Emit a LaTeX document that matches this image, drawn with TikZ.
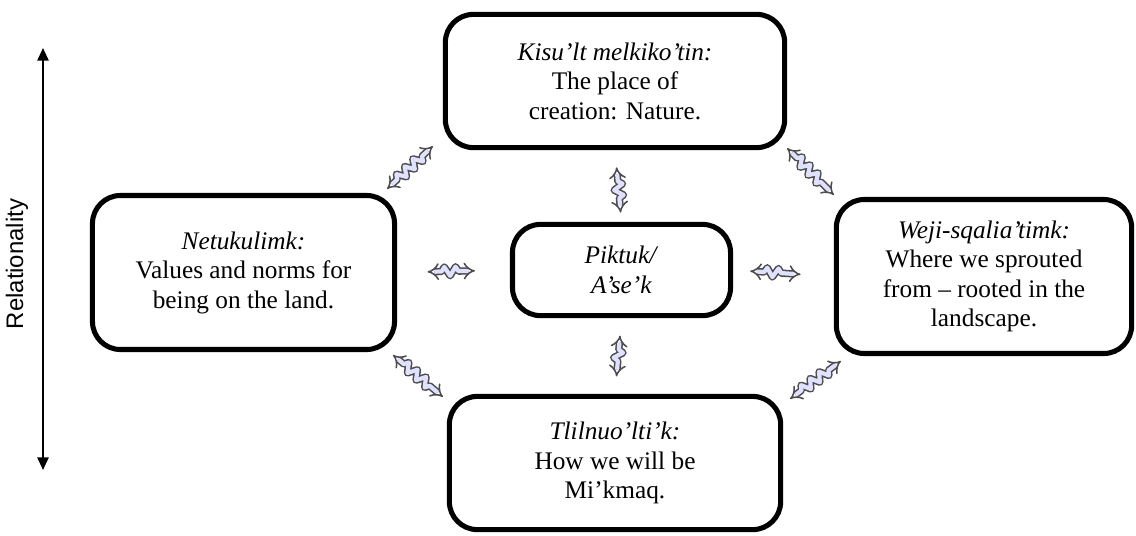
\documentclass[tikz,border=0pt]{standalone}
\usepackage{fontspec}
\setmainfont{Liberation Serif}
\newfontfamily\relfont{Liberation Sans}
\usetikzlibrary{arrows.meta,calc,decorations.pathmorphing}
\tikzset{
	hop/.style={draw, rounded corners=0.7cm, line width=3.6pt, align=center, inner sep=0pt, font=\fontsize{18}{21}\selectfont},
	link/.style={draw=black!70, double=blue!12, line width=1.1pt, double distance=3pt, {Implies[scale=1.25]}-{Implies[scale=1.25]}, decorate, decoration={zigzag, segment length=8pt, amplitude=3.2pt, pre length=10pt, post length=10pt}}
}
\begin{document}
\begin{tikzpicture}[x=0.025cm, y=-0.025cm, line join=round, >={Triangle[length=9pt,width=8pt]}]
	\useasboundingbox (0,0) rectangle (1136,535);
	\node[hop, minimum width=8.48cm, minimum height=3.33cm] (T) at (615,81) {\textit{Kisu’lt melkiko’tin:}\\The place of\\creation: Nature.};
	\node[hop, minimum width=7.55cm, minimum height=3.85cm] (L) at (243.5,272.5) {\textit{Netukulimk:}\\Values and norms for\\being on the land.};
	\node[hop, minimum width=5.45cm, minimum height=2.28cm] (C) at (621.5,270) {\textit{Piktuk/}\\\textit{A’se’k}};
	\node[hop, minimum width=7.38cm, minimum height=3.85cm] (R) at (984,276.5) {\textit{Weji-sqalia’timk:}\\Where we sprouted\\from – rooted in the\\landscape.};
	\node[hop, minimum width=8.28cm, minimum height=3.33cm] (B) at (615,463) {\textit{Tlilnuo’lti'k:}\\How we will be\\Mi’kmaq.};
	\draw[link] ($(T.south)!0.24!(C.north)$) -- ($(T.south)!0.87!(C.north)$);
	\draw[link] ($(C.south)!0.23!(B.north)$) -- ($(C.south)!0.77!(B.north)$);
	\draw[link] ($(L.east)!0.27!(C.west)$) -- ($(L.east)!0.69!(C.west)$);
	\draw[link] ($(C.east)!0.17!(R.west)$) -- ($(C.east)!0.67!(R.west)$);
	\draw[link] ([shift={(-10,-4)}]L.north east) -- ([shift={(-10,-4)}]T.south west);
	\draw[link] ([shift={(0,-2)}]T.south east) -- ([shift={(0,-2)}]R.north west);
	\draw[link] ([shift={(-4,3)}]L.south east) -- ([shift={(-4,3)}]B.north west);
	\draw[link] ([shift={(7,5)}]B.north east) -- ([shift={(7,5)}]R.south west);
	\coordinate (up) at (43,48);
	\coordinate (down) at (43,470);
	\draw[<->, line width=1.4pt] (up) -- (down);
	\node[rotate=90, font=\relfont\fontsize{17}{20}\selectfont] (rel) at (17,264) {Relationality};
\end{tikzpicture}
\end{document}
